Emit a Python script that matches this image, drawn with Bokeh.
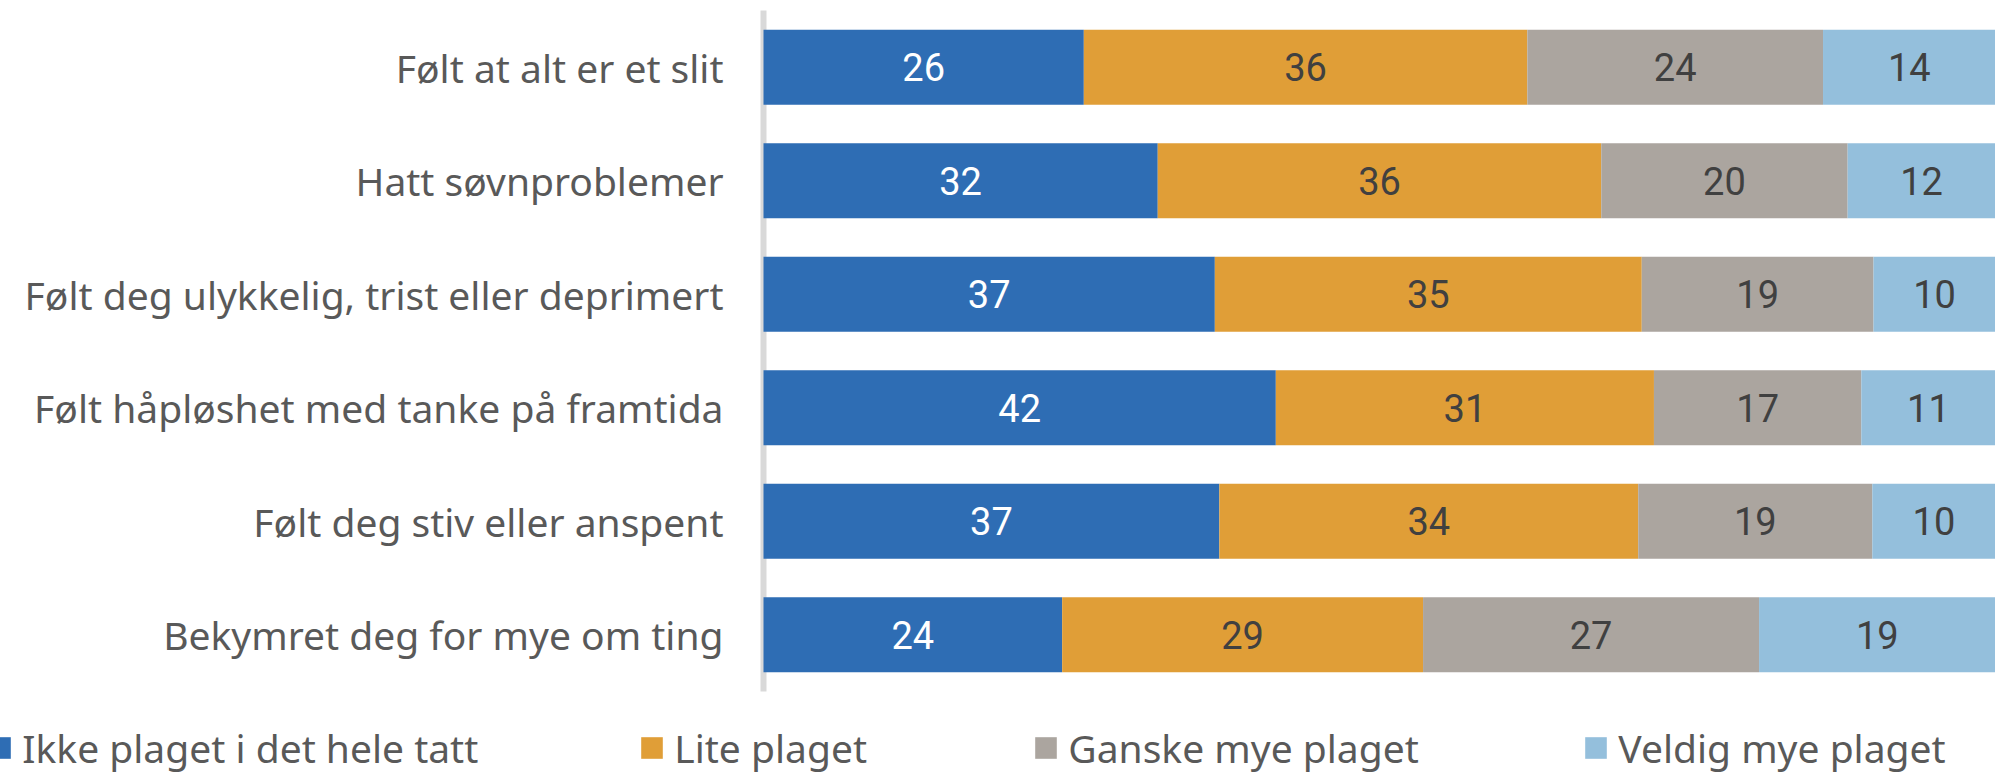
from bokeh.plotting import figure
from bokeh.models import ColumnDataSource, Range1d, Legend, LegendItem
from bokeh.embed import file_html
from bokeh.resources import INLINE
from bokeh.core.properties import value

categories = [
    "Følt at alt er et slit",
    "Hatt søvnproblemer",
    "Følt deg ulykkelig, trist eller deprimert",
    "Følt håpløshet med tanke på framtida",
    "Følt deg stiv eller anspent",
    "Bekymret deg for mye om ting",
]
ikke_plaget = [26, 32, 37, 42, 37, 24]
lite_plaget = [36, 36, 35, 31, 34, 29]
ganske_mye = [24, 20, 19, 17, 19, 27]
veldig_mye = [14, 12, 10, 11, 10, 19]
series_names = ["Ikke plaget i det hele tatt", "Lite plaget", "Ganske mye plaget", "Veldig mye plaget"]

colors = ["#2E6DB4", "#E09E37", "#ABA59F", "#94BFDC"]
text_colors = ["#FFFFFF", "#404040", "#404040", "#404040"]
LABEL_FONT = "Noto Sans"
NUM_FONT = "Roboto"

W, H = 1995, 774
n = len(categories)
series = [ikke_plaget, lite_plaget, ganske_mye, veldig_mye]
keys = ["s0", "s1", "s2", "s3"]
totals = [sum(v) for v in zip(*series)]
ypos = [n - 1 - i for i in range(n)]  # first category on top
data = {"y": ypos, "cat": categories}
for k, vals in zip(keys, series):
    data[k] = [v * 100.0 / t for v, t in zip(vals, totals)]
source = ColumnDataSource(data)

# layout: plot area 763..1995 px for 0..100, rows 113.5 px apart
px_per_unit_x = (W - 763) / 100.0
row_px = 113.5
x_start = -763 / px_per_unit_x
y_top = (n - 0.5) + 10 / row_px
y_bottom = y_top - H / row_px

p = figure(
    width=W, height=H,
    x_range=Range1d(x_start, 100), y_range=Range1d(y_bottom, y_top),
    output_backend="svg", toolbar_location=None,
    min_border=0,
)
p.axis.visible = False
p.grid.visible = False
p.outline_line_color = None

# vertical category axis line
p.segment(x0=[0], y0=[-0.5], x1=[0], y1=[n - 0.5], line_color="#D9D9D9", line_width=6)

renderers = p.hbar_stack(keys, y="y", height=0.66, color=colors, line_color=None, source=source)

# category labels
p.text(x=[0] * n, y=ypos, text=categories, text_align="right", text_baseline="middle",
       x_offset=-40, text_font=value(LABEL_FONT), text_font_size="39px", text_color="#595959")

# value labels
cum = [0.0] * n
for k, vals, tc in zip(keys, series, text_colors):
    xs, txt = [], []
    for i in range(n):
        share = data[k][i]
        xs.append(cum[i] + share / 2.0)
        txt.append(str(vals[i]))
        cum[i] += share
    p.text(x=xs, y=ypos, text=txt, text_align="center", text_baseline="middle",
           text_font=value(NUM_FONT), text_font_size="38px", text_color=tc)

square_starts = [-11, 641, 1035, 1585]
GW = 27
for name, r, sx in zip(series_names, renderers, square_starts):
    leg = Legend(
        items=[LegendItem(label=name, renderers=[r])],
        location=(sx - 0.1 * GW, 0),
        orientation="horizontal",
        glyph_width=GW, glyph_height=GW, label_standoff=9,
        padding=0, margin=0, border_line_color=None, background_fill_alpha=0,
        label_text_font=LABEL_FONT, label_text_font_size="39px", label_text_color="#595959",
    )
    p.add_layout(leg, "center")

open("out.html", "w").write(file_html(p, INLINE))
